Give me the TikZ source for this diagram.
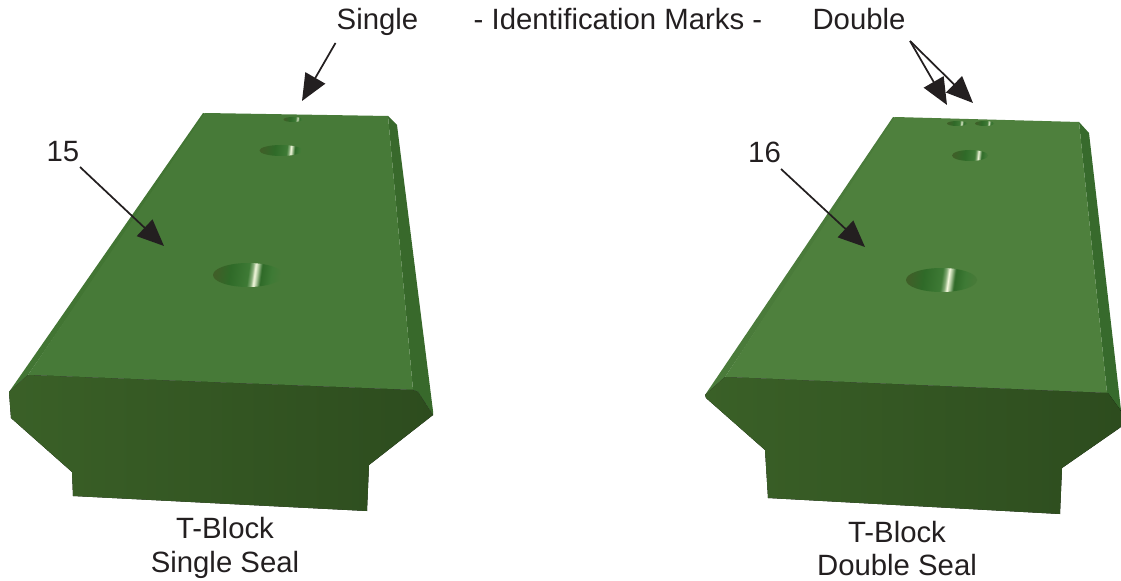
\documentclass[tikz,border=0pt]{standalone}
\usepackage{fontspec}
\setmainfont{Liberation Sans}
\usetikzlibrary{arrows.meta}
\definecolor{ink}{HTML}{231F20}
\definecolor{faceL}{HTML}{477A38}
\definecolor{faceR}{HTML}{4E803D}
\definecolor{bevelL}{HTML}{427533}
\definecolor{bevelR}{HTML}{4A7B3A}
\definecolor{sideL}{HTML}{38692B}
\definecolor{sideR}{HTML}{376A2C}
\definecolor{frontA}{HTML}{3A6027}
\definecolor{frontB}{HTML}{314F21}
\definecolor{frontC}{HTML}{2D4C1E}
\definecolor{holeD}{HTML}{3F5F28}
\definecolor{holeM}{HTML}{2F6A28}
\definecolor{holeG}{HTML}{3E7A35}
\definecolor{holeW}{HTML}{F6FAE0}
\pgfdeclarehorizontalshading{holeA}{100bp}{color(0bp)=(holeD); color(25bp)=(holeD); color(36bp)=(holeM); color(50bp)=(holeG); color(53bp)=(holeG!60!holeW); color(55bp)=(holeW); color(57bp)=(holeW!60!holeG); color(60bp)=(holeM); color(68bp)=(holeG); color(75bp)=(faceL); color(100bp)=(faceL)}
\pgfdeclarehorizontalshading{holeB}{100bp}{color(0bp)=(holeD); color(25bp)=(holeD); color(42bp)=(holeM); color(57bp)=(holeG); color(60bp)=(holeG!60!holeW); color(62bp)=(holeW); color(64bp)=(holeW!60!holeG); color(67bp)=(holeM); color(72bp)=(holeG); color(75bp)=(faceL); color(100bp)=(faceL)}
\tikzset{
  x=0.75pt, y=-0.75pt,
  lbl/.style={font=\fontsize{22}{26}\selectfont, text=ink, anchor=base, inner sep=0pt},
  ptr/.style={draw=ink, line width=1.3pt, -{Triangle[length=20pt,width=17pt,fill=ink]}},
  holeBig/.style={shading=holeA, shading angle=-8},
  holeSmall/.style={shading=holeB, shading angle=-6},
  front/.style={left color=frontA, middle color=frontB, right color=frontC},
}
\begin{document}
\begin{tikzpicture}
\useasboundingbox (0,0) rectangle (1121,581);
% ---- left block ----
\fill[sideL] (388,116) -- (397,125) -- (433,411) -- (433,415) -- (418,392) -- (413,390) -- cycle;
\fill[bevelL] (203,113) -- (207,114) -- (28,375) -- (9,392) -- cycle;
\fill[faceL] (205,113) -- (388,116) -- (413,390) -- (28,375) -- cycle;
\fill[front] (28,375) -- (413,390) -- (418,392) -- (433,415) -- (369,465) -- (367,511) -- (73,496) -- (72,472) -- (11,418) -- (9,392) -- cycle;
\path[holeBig] (248,275) ellipse [x radius=35, y radius=12];
\path[holeSmall] (281,150.5) ellipse [x radius=21.5, y radius=5.5];
\path[holeSmall] (293,119.5) ellipse [x radius=9.5, y radius=2.5];
% ---- right block ----
\fill[sideR] (1079,122) -- (1089,133) -- (1121,410) -- (1121,427) -- (1108,393) -- (1107,393) -- cycle;
\fill[bevelR] (893,117) -- (897,118) -- (725,377) -- (705,395) -- cycle;
\fill[faceR] (895,117) -- (1079,122) -- (1107,393) -- (725,377) -- cycle;
\fill[front] (725,377) -- (1107,393) -- (1108,393) -- (1121,411) -- (1121,427) -- (1062,468) -- (1060,514) -- (768,498) -- (765,450) -- (706,398) -- (705,395) -- cycle;
\path[holeBig] (941.5,280) ellipse [x radius=35.5, y radius=12];
\path[holeSmall] (970,155.5) ellipse [x radius=18, y radius=5.5];
\path[holeSmall] (957,123.5) ellipse [x radius=10, y radius=2.5];
\path[holeSmall] (984.5,123.5) ellipse [x radius=9.5, y radius=2.5];
% ---- labels ----
\node[lbl] (single) at (377.5,30) {Single};
\node[lbl] (marks) at (618,30) {- Identification Marks -};
\node[lbl] (double) at (859,30) {Double};
\node[lbl] (n15) at (63,162) {15};
\node[lbl] (n16) at (764.5,163) {16};
\node[lbl] (cap1a) at (225,538) {T-Block};
\node[lbl] (cap1b) at (225,572) {Single Seal};
\node[lbl] (cap2a) at (897,542) {T-Block};
\node[lbl] (cap2b) at (897,575) {Double Seal};
% ---- pointers ----
\coordinate (tipS) at (302,101);
\coordinate (tip15) at (164,246);
\coordinate (tip16) at (865,247);
\coordinate (tipD1) at (947,105);
\coordinate (tipD2) at (973,103);
\coordinate (startS) at ([shift={(-42,13)}]single.base);
\coordinate (start15) at ([shift={(17,5)}]n15.base);
\coordinate (start16) at ([shift={(16.5,6)}]n16.base);
\coordinate (startD) at ([shift={(51,11)}]double.base);
\draw[ptr] (startS) -- (tipS);
\draw[ptr] (start15) -- (tip15);
\draw[ptr] (start16) -- (tip16);
\draw[ptr] (startD) -- (tipD1);
\draw[ptr] (startD) -- (tipD2);
\end{tikzpicture}
\end{document}
